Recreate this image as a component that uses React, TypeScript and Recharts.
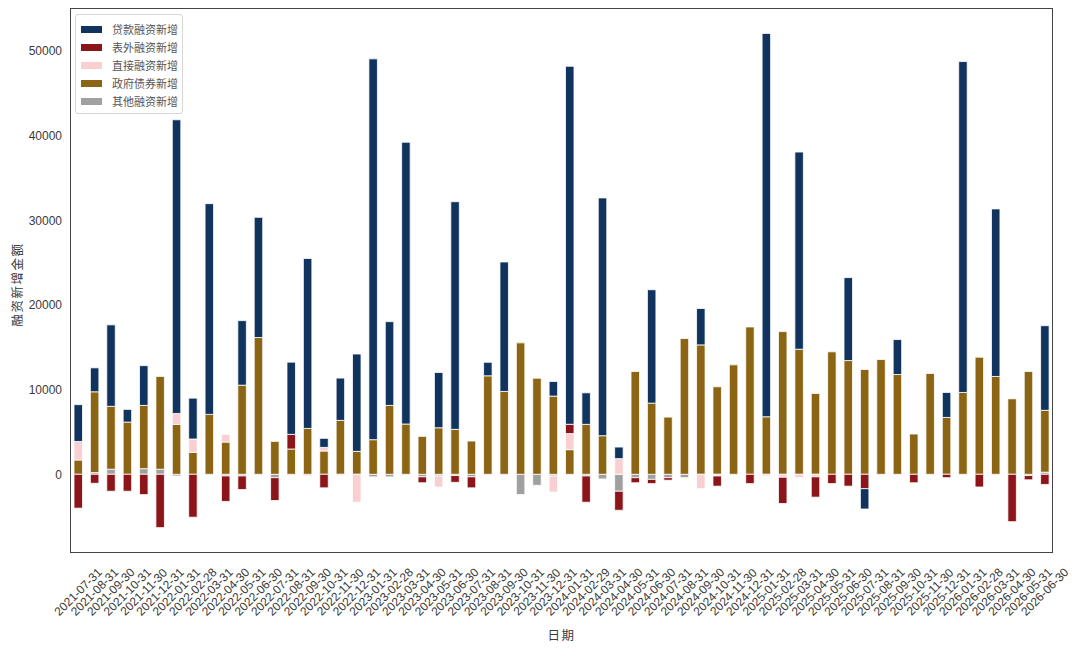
import React from 'react';
import { BarChart, Bar, XAxis, YAxis, Label } from 'recharts';

const dates = [
  '2021-07-31', '2021-08-31', '2021-09-30', '2021-10-31', '2021-11-30', '2021-12-31',
  '2022-01-31', '2022-02-28', '2022-03-31', '2022-04-30', '2022-05-31', '2022-06-30',
  '2022-07-31', '2022-08-31', '2022-09-30', '2022-10-31', '2022-11-30', '2022-12-31',
  '2023-01-31', '2023-02-28', '2023-03-31', '2023-04-30', '2023-05-31', '2023-06-30',
  '2023-07-31', '2023-08-31', '2023-09-30', '2023-10-31', '2023-11-30', '2023-12-31',
  '2024-01-31', '2024-02-29', '2024-03-31', '2024-04-30', '2024-05-31', '2024-06-30',
  '2024-07-31', '2024-08-31', '2024-09-30', '2024-10-31', '2024-11-30', '2024-12-31',
  '2025-01-31', '2025-02-28', '2025-03-31', '2025-04-30', '2025-05-31', '2025-06-30',
  '2025-07-31', '2025-08-31', '2025-09-30', '2025-10-31', '2025-11-30', '2025-12-31',
  '2026-01-31', '2026-02-28', '2026-03-31', '2026-04-30', '2026-05-31', '2026-06-30',
];

// 贷款融资新增
const loan = [
  4350, 2830, 9630, 1500, 4700, 0,
  34700, 4830, 24900, 0, 7630, 14200,
  0, 8530, 20080, 1070, 5000, 11500,
  45000, 9900, 33300, 0, 6530, 26900,
  0, 1600, 15300, 0, 0, 1730,
  42300, 3730, 28100, 1370, 0, 13400,
  0, 0, 4300, 0, 0, 0,
  45300, 0, 23300, 0, 0, 9800,
  -2400, 0, 4130, 0, 0, 2950,
  39100, 0, 19800, 0, 0, 10000,
];

// 表外融资新增
const offBalance = [
  -4000, -1060, -2000, -2000, -2400, -6300,
  0, -5070, 0, -3000, -1600, 0,
  -2700, 1730, 0, -1600, 0, 0,
  0, 0, 0, -700, 0, -800,
  -1300, 0, 0, 0, 0, 0,
  1100, -3100, 0, -2250, -600, -500,
  -300, 0, 0, -1200, 0, -1100,
  0, -3100, 0, -2400, -1100, -1400,
  -1700, 0, 0, -1000, 0, -400,
  0, -1500, 0, -5600, -500, -1200,
];

// 直接融资新增
const direct = [
  2190, 0, 0, 0, 0, 0,
  1290, 1580, 0, 910, 0, 0,
  0, 0, 0, 430, -150, -3300,
  0, 0, 0, 0, -1300, 0,
  0, 0, 0, 0, 0, -1900,
  1900, 0, 0, 1850, 0, 0,
  0, 0, -1700, -200, 0, 0,
  -200, -350, -400, -300, 0, 0,
  0, 0, 0, 0, 0, 0,
  0, 0, 0, 0, 0, 0,
];

// 政府债券新增
const govBond = [
  1690, 9550, 7430, 6170, 7470, 10970,
  5900, 2590, 7080, 3810, 10530, 16160,
  3890, 2990, 5420, 2750, 6370, 2710,
  4090, 8140, 5940, 4480, 5500, 5310,
  3930, 11640, 9790, 15530, 11360, 9240,
  2910, 5900, 4560, 0, 12150, 8410,
  6760, 16040, 15290, 10340, 12930, 17410,
  6800, 16860, 14780, 9550, 14470, 13440,
  12380, 13560, 11790, 4760, 11910, 6720,
  9670, 13840, 11560, 8920, 12150, 7310,
];

// 其他融资新增
const other = [
  0, 200, 600, 0, 670, 600,
  -200, 0, 0, -200, -200, 0,
  -400, 0, -150, 0, 0, 0,
  -300, -300, 0, -300, -200, -150,
  -300, 0, 0, -2400, -1300, -200,
  0, -200, -550, -2000, -400, -600,
  -400, -400, 0, 0, 0, 0,
  0, 0, 0, 0, 0, 0,
  0, 0, 0, 0, 0, 0,
  0, 0, 0, 0, -150, 250,
];

const yTicks = [0, 10000, 20000, 30000, 40000, 50000];

const series = [
  { key: 'loan', name: '贷款融资新增', color: '#10345e' },
  { key: 'offBalance', name: '表外融资新增', color: '#8b1518' },
  { key: 'direct', name: '直接融资新增', color: '#facfd2' },
  { key: 'govBond', name: '政府债券新增', color: '#8b6514' },
  { key: 'other', name: '其他融资新增', color: '#a0a0a0' },
];

const data = dates.map((date, i) => ({
  date,
  loan: loan[i],
  offBalance: offBalance[i],
  direct: direct[i],
  govBond: govBond[i],
  other: other[i],
}));

const SANS = '"Liberation Sans", Arial, "DejaVu Sans", sans-serif';
const CJK = '"Noto Sans CJK SC", sans-serif';

function DateTick(props: any) {
  const { x, y, payload } = props;
  return (
    <g transform={`translate(${x},${y + 31})`}>
      <text
        transform="rotate(-45)"
        textAnchor="middle"
        dominantBaseline="central"
        fontSize={12}
        fontFamily={SANS}
        fill="#3a3a3a"
      >
        {payload.value}
      </text>
    </g>
  );
}

function YLabel(props: any) {
  const { viewBox } = props;
  const cx = viewBox.x + 8;
  const cy = viewBox.y + viewBox.height / 2 + 4;
  return (
    <text
      x={cx}
      y={cy}
      transform={`rotate(-90 ${cx} ${cy})`}
      textAnchor="middle"
      dominantBaseline="central"
      fontSize={12.5}
      fontFamily={CJK}
      letterSpacing={1.5}
      fill="#3a3a3a"
    >
      融资新增金额
    </text>
  );
}

function LegendBox() {
  return (
    <div
      style={{
        position: 'absolute',
        left: 67,
        top: 6,
        width: 106,
        padding: '5px 0 3px 0',
        background: '#fff',
        border: '1px solid #d6d6d6',
        borderRadius: 3,
        fontFamily: CJK,
        fontSize: 11,
        color: '#555',
        whiteSpace: 'nowrap',
      }}
    >
      {series.map((s) => (
        <div key={s.key} style={{ display: 'flex', alignItems: 'center', height: 18 }}>
          <span
            style={{
              display: 'inline-block',
              flex: 'none',
              width: 21,
              height: 7,
              background: s.color,
              marginLeft: 5,
              marginRight: 10,
            }}
          />
          <span style={{ lineHeight: '18px' }}>{s.name}</span>
        </div>
      ))}
    </div>
  );
}

export default function App() {
  // stacking order from zero outward is the reverse of the legend order
  const stackOrder = [...series].reverse();
  return (
    <div style={{ position: 'relative', width: 1064, height: 641 }}>
      <BarChart
        width={1064}
        height={641}
        data={data}
        stackOffset="sign"
        barSize={8.5}
        margin={{ top: 0, right: 19, bottom: 0, left: 0 }}
      >
        <XAxis
          dataKey="date"
          interval={0}
          height={96}
          tickLine={false}
          axisLine={false}
          tick={<DateTick />}
        >
          <Label
            value="日期"
            position="insideBottom"
            offset={9}
            style={{ fontSize: 12.5, fontFamily: CJK, fill: '#3a3a3a', letterSpacing: 1.5 }}
          />
        </XAxis>
        <YAxis
          width={62}
          domain={[-9300, 55100]}
          ticks={yTicks}
          tickLine={false}
          axisLine={false}
          tick={{ fontSize: 12, fontFamily: SANS, fill: '#3a3a3a' }}
        >
          <Label content={<YLabel />} />
        </YAxis>
        {stackOrder.map((s) => (
          <Bar
            key={s.key}
            dataKey={s.key}
            name={s.name}
            stackId="a"
            fill={s.color}
            stroke="#fff"
            strokeWidth={0.8}
            isAnimationActive={false}
          />
        ))}
      </BarChart>
      <div
        style={{
          position: 'absolute',
          left: 62,
          top: 0,
          width: 983,
          height: 545,
          border: '1.3px solid #444',
          boxSizing: 'border-box',
          pointerEvents: 'none',
        }}
      />
      <LegendBox />
    </div>
  );
}
